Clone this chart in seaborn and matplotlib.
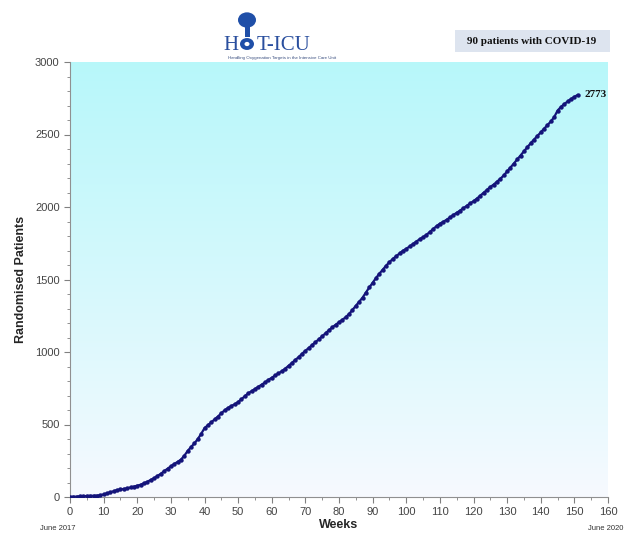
import numpy as np
import pandas as pd
import matplotlib
matplotlib.use("Agg")
import matplotlib.pyplot as plt
import seaborn as sns
from matplotlib.patches import Circle, Rectangle

weeks = list(range(0, 152))
patients = [
    0, 2, 3, 5, 6, 7, 8, 9, 10, 12,
    18, 25, 32, 40, 48, 52, 56, 60, 66, 72,
    78, 85, 95, 105, 118, 130, 145, 160, 178, 195,
    212, 228, 242, 258, 285, 318, 345, 370, 400, 435,
    475, 495, 515, 535, 555, 578, 598, 615, 628, 640,
    655, 675, 695, 715, 730, 745, 760, 775, 790, 808,
    822, 838, 852, 868, 885, 905, 925, 945, 965, 988,
    1008, 1028, 1048, 1068, 1088, 1108, 1130, 1150, 1170, 1188,
    1205, 1222, 1240, 1262, 1290, 1318, 1345, 1375, 1410, 1445,
    1478, 1510, 1540, 1568, 1595, 1620, 1642, 1660, 1680, 1698,
    1712, 1728, 1745, 1762, 1778, 1792, 1808, 1828, 1848, 1868,
    1885, 1898, 1912, 1928, 1945, 1960, 1975, 1992, 2008, 2025,
    2040, 2058, 2078, 2098, 2118, 2138, 2155, 2175, 2195, 2218,
    2245, 2272, 2300, 2328, 2355, 2385, 2412, 2440, 2465, 2490,
    2515, 2540, 2565, 2590, 2620, 2665, 2690, 2710, 2728, 2745,
    2760, 2773,
]
x_ticks = list(range(0, 161, 10))
y_ticks = list(range(0, 3001, 500))
final_label = "2773"
badge_text = "90 patients with COVID-19"
start_label = "June 2017"
end_label = "June 2020"

sns.set_style("white")
plt.rcParams['font.family'] = ['Liberation Sans', 'DejaVu Sans']

fig = plt.figure(figsize=(6.27, 5.34), dpi=100)
ax = fig.add_axes([70/627, 1-497/534, 538/627, 435/534])

# gradient background
grad = np.linspace(0, 1, 256).reshape(-1, 1)
top = np.array([0.72, 0.97, 0.98])
bot = np.array([0.97, 0.98, 1.0])
img = bot + (top - bot) * grad[..., None] ** 0.9
ax.imshow(img, extent=[0, 160, 0, 3000], origin='lower', aspect='auto', zorder=0)

df = pd.DataFrame({"Weeks": weeks, "Patients": patients})
sns.lineplot(data=df, x="Weeks", y="Patients", ax=ax, color="#14147a",
             marker="o", markersize=3.2, markeredgewidth=0, linewidth=1.6, zorder=3)

ax.set_xlim(0, 160)
ax.set_ylim(0, 3000)
ax.set_xticks(x_ticks)
ax.set_yticks(y_ticks)
ax.set_xticks(range(0, 161, 5), minor=True)
ax.set_yticks(range(0, 3001, 100), minor=True)
ax.tick_params(axis='both', which='major', length=4, width=0.8, color='#808080',
               labelsize=8, labelcolor='#444444', direction='out', bottom=True, left=True)
ax.tick_params(axis='both', which='minor', length=2, width=0.6, color='#808080',
               direction='out', bottom=True, left=True)
for s in ['top', 'right']:
    ax.spines[s].set_visible(False)
for s in ['left', 'bottom']:
    ax.spines[s].set_color('#909090')
    ax.spines[s].set_linewidth(0.8)

ax.set_xlabel("Weeks", fontsize=9, fontweight='bold', labelpad=1)
ax.set_ylabel("Randomised Patients", fontsize=9, fontweight='bold', labelpad=6)

ax.annotate(final_label, xy=(weeks[-1], patients[-1]), xytext=(5, 0),
            textcoords='offset points', va='center', ha='left',
            fontsize=8, fontweight='bold', family='Liberation Serif', color='#111111')

fig.text(40/627, 1-528/534, start_label, fontsize=5.5, color='#333333', ha='left', va='center')
fig.text(623/627, 1-528/534, end_label, fontsize=5.5, color='#333333', ha='right', va='center')

# badge
fig.patches.append(Rectangle((455/627, 1-52/534), 155/627, 22/534, transform=fig.transFigure,
                             facecolor='#dde4ef', edgecolor='none', zorder=1))
fig.text(532/627, 1-41/534, badge_text, fontsize=8, fontweight='bold',
         family='Liberation Serif', color='#111111', ha='center', va='center')

# logo
logo_col = '#2a4f9e'
fig.text(223/627, 1-45/534, "H", fontsize=15, family='Liberation Serif', color=logo_col,
         ha='left', va='center')
fig.text(257/627, 1-45/534, "T-ICU", fontsize=15, family='Liberation Serif', color=logo_col,
         ha='left', va='center')
fig.patches.append(Circle((247/627, 1-44/534), 7/627, transform=fig.transFigure,
                          facecolor='#1f4fa8', edgecolor='none'))
fig.patches.append(Circle((247/627, 1-44/534), 2.5/627, transform=fig.transFigure,
                          facecolor='white', edgecolor='none'))
fig.patches.append(Rectangle((244.5/627, 1-37/534), 5/627, 12/534, transform=fig.transFigure,
                             facecolor='#1f4fa8', edgecolor='none'))
fig.patches.append(Circle((247/627, 1-20/534), 9/627, transform=fig.transFigure,
                          facecolor='#1f4fa8', edgecolor='none'))
fig.text(282/627, 1-58/534, "Handling Oxygenation Targets in the Intensive Care Unit",
         fontsize=3.2, color='#3a4f80', ha='center', va='center')

fig.savefig("out.png", dpi=100, facecolor='white')
